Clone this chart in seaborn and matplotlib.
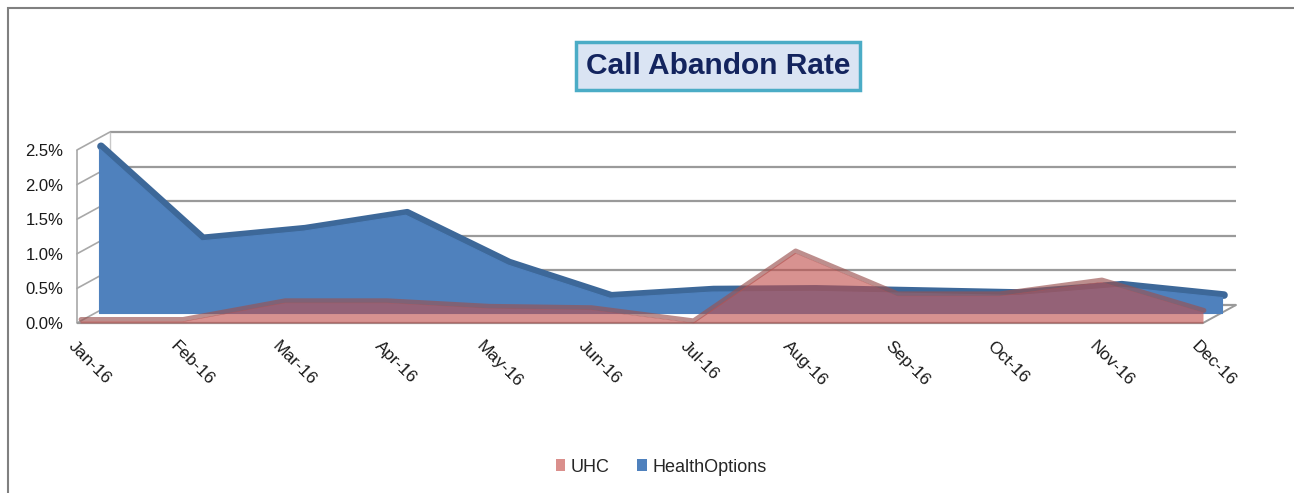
import numpy as np
import pandas as pd
import matplotlib
matplotlib.use('Agg')
from matplotlib import pyplot as plt
from matplotlib.transforms import offset_copy
from matplotlib.patches import Rectangle, Patch, ConnectionPatch
from matplotlib.ticker import FuncFormatter
import seaborn as sns

# Data (percent)
months = ['Jan-16', 'Feb-16', 'Mar-16', 'Apr-16', 'May-16', 'Jun-16',
          'Jul-16', 'Aug-16', 'Sep-16', 'Oct-16', 'Nov-16', 'Dec-16']
uhc = [0.03, 0.03, 0.30, 0.30, 0.22, 0.20, 0.01, 1.02, 0.40, 0.40, 0.60, 0.16]
health_options = [2.38, 1.05, 1.19, 1.42, 0.70, 0.22, 0.31, 0.32, 0.29, 0.26, 0.38, 0.23]
y_ticks = [0.0, 0.5, 1.0, 1.5, 2.0, 2.5]

df = pd.DataFrame({'pos': np.arange(len(months)), 'month': months,
                   'UHC': uhc, 'HealthOptions': health_options})

sns.set_theme(style='white')
plt.rcParams['font.family'] = ['Liberation Sans', 'DejaVu Sans']

W, H = 1294, 493
fig = plt.figure(figsize=(W / 100, H / 100), dpi=100)
fig.patch.set_facecolor('white')

# front plane of the 3D box (pixels): Jan at 80, Dec at 1203, 0% at 323, 2.5% at 150
ax = fig.add_axes([80 / W, (H - 323) / H, (1203 - 80) / W, (323 - 150) / H])
ax.set_facecolor('none')

back_tr = offset_copy(ax.transData, fig=fig, x=33, y=18, units='dots')
blue_tr = offset_copy(ax.transData, fig=fig, x=19, y=10, units='dots')
blue_top = offset_copy(ax.transData, fig=fig, x=21, y=12, units='dots')
pink_top = offset_copy(ax.transData, fig=fig, x=1, y=1.5, units='dots')

x_left = -0.03
grid_col = '#9a9a9a'

# back wall gridlines
ax.hlines(y_ticks, x_left, 11, colors=grid_col, lw=1.6, transform=back_tr,
          clip_on=False, zorder=1)
ax.vlines(x_left, 0, 2.5, colors='#c8c8c8', lw=1, transform=back_tr, clip_on=False, zorder=1)
# left side wall
ax.vlines(x_left, 0, 2.5, colors='#a8a8a8', lw=1.2, clip_on=False, zorder=1)
for v in y_ticks:
    con = ConnectionPatch(xyA=(x_left, v), coordsA=ax.transData,
                          xyB=(x_left, v), coordsB=back_tr,
                          color='#a8a8a8', lw=1.2, zorder=1)
    con.set_clip_on(False)
    ax.add_artist(con)
# floor edges
ax.hlines(0, x_left, 11, colors='#9a9a9a', lw=1.6, clip_on=False, zorder=1)
con = ConnectionPatch(xyA=(11, 0), coordsA=ax.transData, xyB=(11, 0), coordsB=back_tr,
                      color='#9a9a9a', lw=1.4, zorder=1)
con.set_clip_on(False)
ax.add_artist(con)

blue = '#4F81BD'
pink = '#C0504D'

# HealthOptions (back series): top surface then front face
sns.lineplot(data=df, x='pos', y='HealthOptions', ax=ax, color='#3D6899', lw=5.5,
             transform=blue_top, clip_on=False, zorder=2, legend=False)
ax.fill_between(df['pos'], 0, df['HealthOptions'], color=blue, lw=0.8, edgecolor=blue,
                transform=blue_tr, clip_on=False, zorder=3)

# UHC (front series), translucent
sns.lineplot(data=df, x='pos', y='UHC', ax=ax, color='#9A5250', alpha=0.65, lw=3.5,
             transform=pink_top, clip_on=False, zorder=4, legend=False)
ax.fill_between(df['pos'], 0, df['UHC'], color=pink, alpha=0.62, lw=0,
                clip_on=False, zorder=5)

ax.set_xlim(0, 11)
ax.set_ylim(0, 2.5)
ax.set_xlabel('')
ax.set_ylabel('')
for s in ax.spines.values():
    s.set_visible(False)

ax.set_yticks(y_ticks)
ax.yaxis.set_major_formatter(FuncFormatter(lambda v, p: f'{v:.1f}%'))
ax.set_xticks(df['pos'])
ax.set_xticklabels(months, rotation=-45, ha='left', va='top', rotation_mode='anchor')
ax.tick_params(axis='y', length=0, pad=12, labelsize=12, labelcolor='#1a1a1a')
ax.tick_params(axis='x', length=0, pad=11, labelsize=12.5, labelcolor='#1a1a1a')
for lab in ax.get_xticklabels():
    lab.set_transform(offset_copy(lab.get_transform(), fig=fig, x=-4, y=0, units='dots'))

# title box
fig.text(718 / W, 1 - 66 / H, 'Call Abandon Rate', ha='center', va='center',
         fontsize=21.5, fontweight='bold', color='#13245E',
         bbox=dict(boxstyle='square,pad=0.33', facecolor='#DAE4F3',
                   edgecolor='#4BACC6', lw=2.5))

# outer frame
fig.add_artist(Rectangle((8 / W, -0.1), 1.2, (H - 8) / H + 0.1, transform=fig.transFigure,
                         fill=False, edgecolor='#808080', lw=1.5))

# legend
handles = [Patch(facecolor='#DA8F8C', edgecolor='none'),
           Patch(facecolor=blue, edgecolor='none')]
fig.legend(handles, ['UHC', 'HealthOptions'], loc='center',
           bbox_to_anchor=(661 / W, 1 - 467 / H), ncol=2, frameon=False,
           fontsize=13, handlelength=0.55, handleheight=0.65, handletextpad=0.3,
           columnspacing=1.5)

fig.savefig('out.png', dpi=100)
